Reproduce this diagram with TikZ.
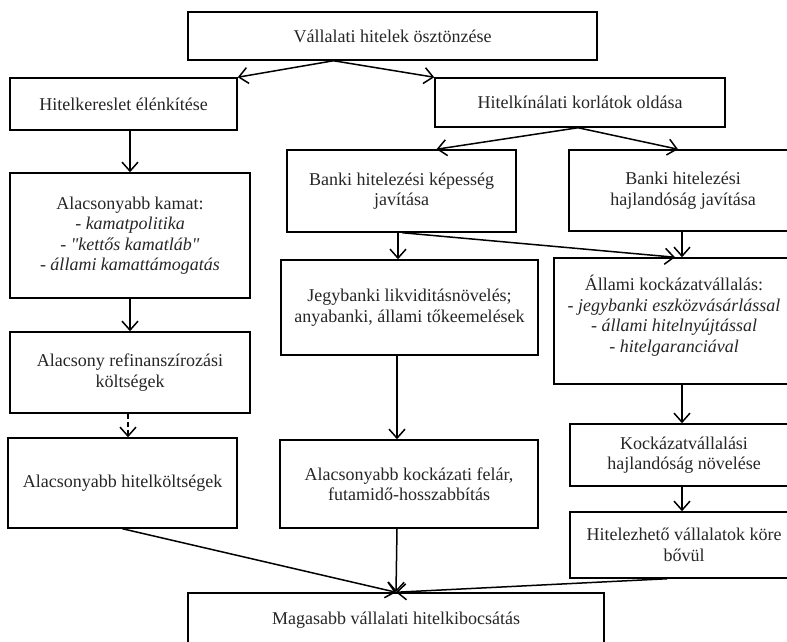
\documentclass[tikz,border=0pt]{standalone}
\usepackage{fontspec}
\setmainfont{Liberation Serif}[Ligatures=TeXOff]
\usetikzlibrary{arrows.meta,positioning}

\begin{document}
\begin{tikzpicture}[x=1pt, y=-1pt,
		block/.style={draw, line width=1.5pt, align=center, inner sep=2pt, text=black!85, font=\fontsize{18}{20.5}\selectfont},
		arr/.style={line width=1.5pt, -{Straight Barb[length=9pt,width=16pt]}}
	]
		\useasboundingbox (0,0) rectangle (787,642);
		\clip (0,0) rectangle (787,642);
		\fill[white] (0,0) rectangle (787,642);

		\node[block, minimum width=409pt, minimum height=48pt] (top) at (392.5,36) {Vállalati hitelek ösztönzése};
		\node[block, minimum width=227pt, minimum height=52pt] (dem) at (123.5,104) {Hitelkereslet élénkítése};
		\node[block, minimum width=290pt, minimum height=49pt] (sup) at (580,102.5) {Hitelkínálati korlátok oldása};

		\node[block, minimum width=229pt, minimum height=82pt] (cap) at (401.5,191) {Banki hitelezési képesség\\javítása};
		\node[block, minimum width=228pt, minimum height=81pt] (will) at (683,190.5) {Banki hitelezési\\hajlandóság javítása};

		\node[block, minimum width=240pt, minimum height=125pt] (rate) at (130,235.5) {Alacsonyabb kamat:\\- \textit{kamatpolitika}\\- \textit{"kettős kamatláb"}\\- \textit{állami kamattámogatás}};
		\node[block, minimum width=240pt, minimum height=81pt] (refin) at (130,372.5) {Alacsony refinanszírozási\\költségek};
		\node[block, minimum width=229pt, minimum height=90pt] (cost) at (122.5,483) {Alacsonyabb hitelköltségek};

		\node[block, minimum width=257pt, minimum height=95pt] (liq) at (409.5,307.5) {Jegybanki likviditásnövelés;\\anyabanki, állami tőkeemelések};
		\node[block, minimum width=258pt, minimum height=88pt] (prem) at (409,484) {Alacsonyabb kockázati felár,\\futamidő-hosszabbítás};

		\node[block, minimum width=240pt, minimum height=126pt] (state) at (674,321) {Állami kockázatvállalás:\\- \textit{jegybanki eszközvásárlással}\\- \textit{állami hitelnyújtással}\\- \textit{hitelgaranciával}\\[-6pt]};
		\node[block, minimum width=228pt, minimum height=62pt] (risk) at (684,455) {Kockázatvállalási\\hajlandóság növelése};
		\node[block, minimum width=228pt, minimum height=66pt] (firms) at (684,545) {Hitelezhető vállalatok köre\\bővül};

		\node[block, minimum width=416pt, minimum height=54pt] (out) at (396,620) {Magasabb vállalati hitelkibocsátás};

		% top level
		\draw[arr] ([xshift=-59pt]top.south) -- (dem.north east);
		\draw[arr] ([xshift=-59pt]top.south) -- (sup.north west);
		\draw[arr] ([xshift=-2pt]sup.south) -- ([xshift=35pt]cap.north);
		\draw[arr] ([xshift=-2pt]sup.south) -- ([xshift=-5pt]will.north);

		% demand side
		\draw[arr] (rate.north |- dem.south) -- (rate.north);
		\draw[arr] (rate.south) -- (refin.north);
		\draw[arr, dash pattern=on 5pt off 3pt] ([xshift=-2pt]refin.south) -- ([xshift=5.5pt]cost.north);
		\draw[arr] (cost.south) -- (out.north);

		% supply side
		\draw[arr] ([xshift=-3.5pt]cap.south) -- ([xshift=-11.5pt]liq.north);
		\draw[arr] ([xshift=1pt]cap.south) -- ([xshift=1pt]state.north);
		\draw[arr] ([xshift=-1pt]will.south) -- ([xshift=8pt]state.north);
		\draw[arr] ([xshift=-12.5pt]liq.south) -- ([xshift=-12pt]prem.north);
		\draw[arr] ([xshift=-12pt]prem.south) -- (out.north);
		\draw[arr] ([xshift=8pt]state.south) -- ([xshift=-2pt]risk.north);
		\draw[arr] ([xshift=-2pt]risk.south) -- ([xshift=-2pt]firms.north);
		\draw[arr] ([xshift=-17pt]firms.south) -- (out.north);
	\end{tikzpicture}
\end{document}
